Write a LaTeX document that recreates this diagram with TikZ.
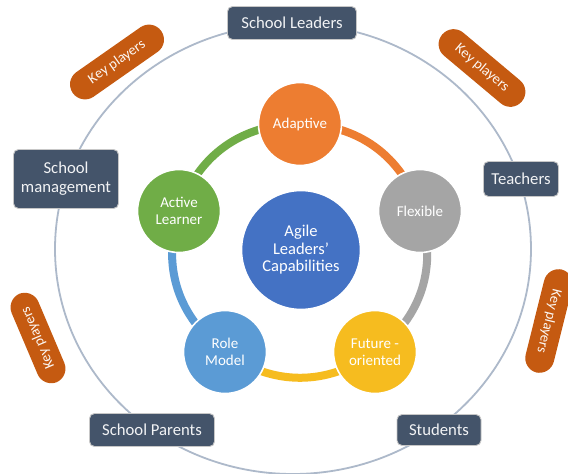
\documentclass[tikz,border=0pt]{standalone}
\usepackage{fontspec}
\setmainfont{Carlito}
\usetikzlibrary{backgrounds}
\definecolor{slate}{HTML}{44546A}
\definecolor{pillc}{HTML}{C55A11}
\definecolor{cadapt}{HTML}{ED7D31}
\definecolor{cflex}{HTML}{A5A5A5}
\definecolor{cfut}{HTML}{F6BC1F}
\definecolor{crole}{HTML}{5B9BD5}
\definecolor{cact}{HTML}{70AD47}
\definecolor{ccent}{HTML}{4472C4}
\definecolor{ringc}{HTML}{ADB9CA}
\begin{document}
\begin{tikzpicture}[x=1pt,y=-1pt,
  player/.style={draw=black!22, line width=0.9pt, fill=slate, rounded corners=5pt,
    text=white!93!slate, inner sep=0pt, align=center,
    font=\fontsize{16.7}{19.2}\selectfont},
  capab/.style={circle, draw=white, line width=1.6pt, text=white, minimum size=83pt,
    inner sep=0pt, align=center, font=\fontsize{15}{16.5}\selectfont},
  keypill/.style={fill=pillc, rounded corners=14.9pt, minimum height=30pt, inner sep=0pt,
    text=white!95!pillc, font=\fontsize{14.5}{16}\selectfont},
  ringarc/.style={line width=8pt}
]
\useasboundingbox (0,0) rectangle (568,474);

% key players
\node[player, minimum width=129pt, minimum height=33pt] (leaders) at (292,23) {School Leaders};
\node[player, minimum width=105pt, minimum height=59pt] (mgmt) at (66,179) {School\\management};
\node[player, minimum width=75pt, minimum height=35pt] (teachers) at (521,179) {Teachers};
\node[player, minimum width=125pt, minimum height=33pt] (parents) at (152,430) {School Parents};
\node[player, minimum width=84pt, minimum height=31pt] (students) at (439,430) {Students};

% pills
\node[keypill, minimum width=108pt, rotate=35] (kp1) at (117,62) {Key players};
\node[keypill, minimum width=104pt, rotate=-40] (kp2) at (482,68) {Key players};
\node[keypill, minimum width=96pt, minimum height=29pt, rotate=113] (kp3) at (38,338) {Key players};
\node[keypill, minimum width=106pt, minimum height=29pt, rotate=-104] (kp4) at (549,321) {Key players};

% capabilities
\node[circle, fill=ccent, draw=white, line width=1.6pt, minimum size=119pt, inner sep=0pt,
  text=white, align=center, font=\fontsize{16.5}{17.5}\selectfont] (core) at (301,250)
  {Agile\\Leaders'\\Capabilities};
\node[capab, fill=cadapt] (adapt) at (300,124) {Adaptive};
\node[capab, fill=cflex] (flex) at (420,211) {Flexible};
\node[capab, fill=cfut] (fut) at (375,352) {Future -\\oriented};
\node[capab, fill=crole] (role) at (225,352) {Role\\Model};
\node[capab, fill=cact] (act) at (179,211) {Active\\Learner};

\begin{pgfonlayer}{background}
\fill[white] (0,0) rectangle (568,474);
\draw[ringc, line width=1.8pt] (293,249) ellipse [x radius=238, y radius=225];
\draw[ringarc, cadapt] (adapt.center) to[bend left=36] (flex.center);
\draw[ringarc, cflex] (flex.center) to[bend left=36] (fut.center);
\draw[ringarc, cfut] (fut.center) to[bend left=36] (role.center);
\draw[ringarc, crole] (role.center) to[bend left=36] (act.center);
\draw[ringarc, cact] (act.center) to[bend left=36] (adapt.center);
\end{pgfonlayer}
\end{tikzpicture}
\end{document}
